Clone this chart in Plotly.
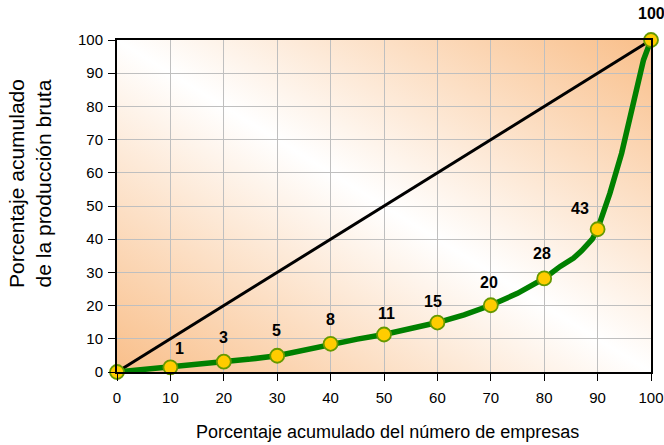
import base64
import plotly.graph_objects as go

# ---- data ----
x_curve = [0, 5, 10, 15, 20, 25, 30, 35, 40, 45, 50, 55, 60, 65, 70, 75, 80,
           83, 85.5, 87, 89, 90, 92.3, 94.5, 96.1, 97.3, 98.6, 100]
y_curve = [0, 0.7, 1.4, 2.2, 3.1, 3.9, 4.9, 6.6, 8.5, 9.9, 11.3, 13, 14.9, 17.2,
           20.1, 23.7, 28.2, 31.8, 34.3, 36.5, 40, 43, 53.8, 65.9, 76.9, 85.9, 94, 100]

x_points = [0, 10, 20, 30, 40, 50, 60, 70, 80, 90, 100]
y_points = [0, 1.4, 3.1, 4.9, 8.5, 11.3, 14.9, 20.1, 28.2, 43, 100]
point_labels = ["", "1", "3", "5", "8", "11", "15", "20", "28", "43", "100"]

x_equality = [0, 100]
y_equality = [0, 100]

tick_vals = [0, 10, 20, 30, 40, 50, 60, 70, 80, 90, 100]

# ---- styles ----
label_shift = [(0, 0), (9, 19), (0, 24), (-1, 25), (0, 24), (2, 21), (-4, 21),
               (-2, 23), (-2, 25), (-18, 21), (0, 27)]
FONT = "Liberation Sans"
ORANGE = "#F9BF8A"

svg = (
    '<svg xmlns="http://www.w3.org/2000/svg" width="100" height="100" '
    'preserveAspectRatio="none" viewBox="0 0 100 100">'
    '<defs><linearGradient id="g" x1="0" y1="1" x2="1" y2="0">'
    f'<stop offset="0" stop-color="{ORANGE}"/>'
    '<stop offset="0.5" stop-color="#FFFFFF"/>'
    f'<stop offset="1" stop-color="{ORANGE}"/>'
    '</linearGradient></defs>'
    '<rect x="0" y="0" width="100" height="100" fill="url(#g)"/></svg>'
)
svg_uri = "data:image/svg+xml;base64," + base64.b64encode(svg.encode()).decode()

fig = go.Figure()

fig.add_trace(go.Scatter(
    x=x_equality, y=y_equality, mode="lines",
    line=dict(color="black", width=3), hoverinfo="skip", showlegend=False,
    cliponaxis=False,
))
fig.add_trace(go.Scatter(
    x=x_curve, y=y_curve, mode="lines",
    line=dict(color="#008000", width=5.5), hoverinfo="skip", showlegend=False,
    cliponaxis=False,
))
fig.add_trace(go.Scatter(
    x=x_points, y=y_points, mode="markers",
    marker=dict(color="#FFCC00", size=14, line=dict(color="#669900", width=1.8)),
    showlegend=False, cliponaxis=False,
))

for xv, yv, lab, (dx, dy) in zip(x_points, y_points, point_labels, label_shift):
    if not lab:
        continue
    fig.add_annotation(
        x=xv, y=yv, text="<b>" + lab + "</b>", showarrow=False,
        xanchor="center", yanchor="middle",
        xshift=dx, yshift=dy, font=dict(family=FONT, size=16, color="black"),
    )

PLOT_L, PLOT_R, PLOT_T, PLOT_B = 117, 651, 40, 372
PW, PH = PLOT_R - PLOT_L, PLOT_B - PLOT_T

fig.add_annotation(
    xref="paper", yref="paper", x=(387 - PLOT_L) / PW, y=(PLOT_B - 432) / PH,
    text="Porcentaje acumulado del número de empresas", showarrow=False,
    xanchor="center", yanchor="middle",
    font=dict(family=FONT, size=18, color="black"),
)
fig.add_annotation(
    xref="paper", yref="paper", x=(30 - PLOT_L) / PW, y=(PLOT_B - 184) / PH,
    text="Porcentaje acumulado<br>de la producción bruta", showarrow=False,
    textangle=-90, xanchor="center", yanchor="middle",
    font=dict(family=FONT, size=21, color="black"),
)

fig.add_layout_image(dict(
    source=svg_uri, xref="x", yref="y", x=0, y=100, sizex=100, sizey=100,
    xanchor="left", yanchor="top", sizing="stretch", layer="below",
))

axis_common = dict(
    range=[0, 100], tickvals=tick_vals, showgrid=True, gridcolor="#BFBFBF",
    gridwidth=1, showline=True, linecolor="black", linewidth=2, mirror=True,
    ticks="outside", ticklen=7, tickcolor="black", tickwidth=1,
    tickfont=dict(family=FONT, size=15, color="black"), zeroline=False,
    fixedrange=True, automargin=False, ticklabeloverflow="allow",
)
fig.update_xaxes(**axis_common, ticklabelstandoff=4)
fig.update_yaxes(**axis_common, ticklabelstandoff=2)

fig.update_layout(
    width=664, height=445,
    margin=dict(l=PLOT_L, r=664 - PLOT_R, t=PLOT_T, b=445 - PLOT_B),
    paper_bgcolor="white", plot_bgcolor="rgba(0,0,0,0)",
    font=dict(family=FONT, color="black"),
)

fig.write_html(
    "out.html",
    config={"displayModeBar": False},
    post_script="document.body.style.margin='0';document.body.style.padding='0';"
                "document.body.style.overflow='hidden';",
)
